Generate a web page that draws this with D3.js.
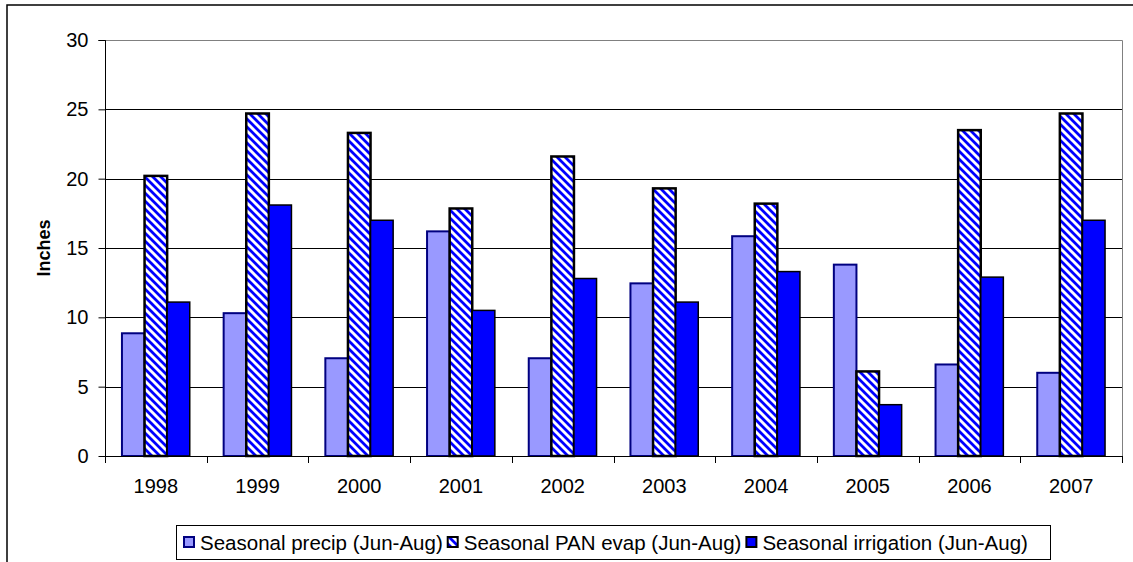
<!DOCTYPE html>
<html><head><meta charset="utf-8">
<script src="https://cdn.jsdelivr.net/npm/d3@7"></script>
<style>body{margin:0;background:#fff}svg{display:block}text{font-family:"Liberation Sans",Arial,sans-serif}</style>
</head><body><svg id="c" width="1133" height="562"></svg>
<script>
const years = ["1998","1999","2000","2001","2002","2003","2004","2005","2006","2007"];
const precip = [8.85, 10.3, 7.05, 16.2, 7.05, 12.45, 15.85, 13.8, 6.6, 6.0];
const evap = [20.2, 24.7, 23.3, 17.85, 21.6, 19.3, 18.2, 6.1, 23.5, 24.7];
const irrigation = [11.1, 18.1, 17.0, 10.5, 12.8, 11.1, 13.3, 3.7, 12.9, 17.0];
const seriesNames = ["Seasonal precip (Jun-Aug)", "Seasonal PAN evap (Jun-Aug)", "Seasonal irrigation (Jun-Aug)"];
const yTicks = [0,5,10,15,20,25,30];

const svg = d3.select("#c");
const defs = svg.append("defs");
const pat = defs.append("pattern").attr("id","hatch").attr("patternUnits","userSpaceOnUse")
  .attr("width",8).attr("height",8);
pat.append("rect").attr("width",8).attr("height",8).attr("fill","#fff");
pat.append("path").attr("d","M-2,-2L10,10M-6,2L6,14M2,-6L14,6").attr("stroke","#0000ff").attr("stroke-width",2.8);

// outer chart border
svg.append("path").attr("d","M7,570V5H1140").attr("fill","none").attr("stroke","#000").attr("stroke-width",1.5);

const L=105, R=1122, T=40, B=456;
const x = d3.scaleBand().domain(years).range([L,R]).paddingInner(0).paddingOuter(0);
const y = d3.scaleLinear().domain([0,30]).range([B,T]);
const bw = x.bandwidth()/4.5;

// gridlines
svg.append("g").selectAll("line").data(yTicks.filter(d=>d>0&&d<30)).join("line")
  .attr("x1",L).attr("x2",R).attr("y1",d=>Math.round(y(d))+0.5).attr("y2",d=>Math.round(y(d))+0.5)
  .attr("stroke","#000").attr("stroke-width",1);
// plot border top/right
svg.append("path").attr("d",`M${L},${T+0.5}H${R+0.5}V${B}`).attr("fill","none").attr("stroke","#808080").attr("stroke-width",1);

const styles = [
  {fill:"#9999ff", stroke:"#000080", sw:2},
  {fill:"url(#hatch)", stroke:"#000", sw:2.5},
  {fill:"#0000ff", stroke:"#000", sw:1.5}
];
const data = [precip, evap, irrigation];
data.forEach((vals,si)=>{
  svg.append("g").selectAll("rect").data(vals).join("rect")
    .attr("x",(d,i)=>x(years[i]) + bw*0.75 + si*bw)
    .attr("y",d=>y(d))
    .attr("width",bw)
    .attr("height",d=>B-y(d))
    .attr("fill",styles[si].fill).attr("stroke",styles[si].stroke).attr("stroke-width",styles[si].sw);
});

// axes
const yAxis = svg.append("g").attr("transform",`translate(${L+0.5},0)`)
  .call(d3.axisLeft(y).tickValues(yTicks).tickSize(7).tickPadding(10));
yAxis.select(".domain").attr("d",`M-7,${T+0.5}H0V${B+7}`);
yAxis.selectAll("text").attr("font-size",20).attr("fill","#000").attr("font-family","Liberation Sans, Arial, sans-serif");
yAxis.selectAll("line,path").attr("stroke","#000");

const xAxis = svg.append("g").attr("transform",`translate(0,${B+0.5})`)
  .call(d3.axisBottom(x).tickSize(0).tickPadding(22));
xAxis.select(".domain").attr("d",`M${L},0H${R}`);
xAxis.selectAll("text").attr("font-size",20).attr("fill","#000").attr("font-family","Liberation Sans, Arial, sans-serif");
xAxis.selectAll("path").attr("stroke","#000");
svg.append("g").selectAll("line").data(years.slice(1).concat(["end"])).join("line")
  .attr("x1",(d,i)=>Math.round(i<years.length-1?x(d):R)+0.5).attr("x2",(d,i)=>Math.round(i<years.length-1?x(d):R)+0.5)
  .attr("y1",B).attr("y2",B+7).attr("stroke","#000");

// y title
svg.append("text").attr("transform",`translate(50,${(T+B)/2}) rotate(-90)`)
  .attr("text-anchor","middle").attr("font-size",18).attr("font-weight","bold").text("Inches");

// legend
const lg = svg.append("g");
lg.append("rect").attr("x",176.5).attr("y",525.5).attr("width",874).attr("height",34)
  .attr("fill","#fff").attr("stroke","#000").attr("stroke-width",1);
let cx = 184;
seriesNames.forEach((nm,si)=>{
  lg.append("rect").attr("x",cx).attr("y",537).attr("width",10).attr("height",10)
    .attr("fill",styles[si].fill).attr("stroke",styles[si].stroke).attr("stroke-width",2);
  const t = lg.append("text").attr("x",cx+16).attr("y",550).attr("font-size",20.5).text(nm);
  cx += 16 + t.node().getComputedTextLength() + 5;
});
</script></body></html>
